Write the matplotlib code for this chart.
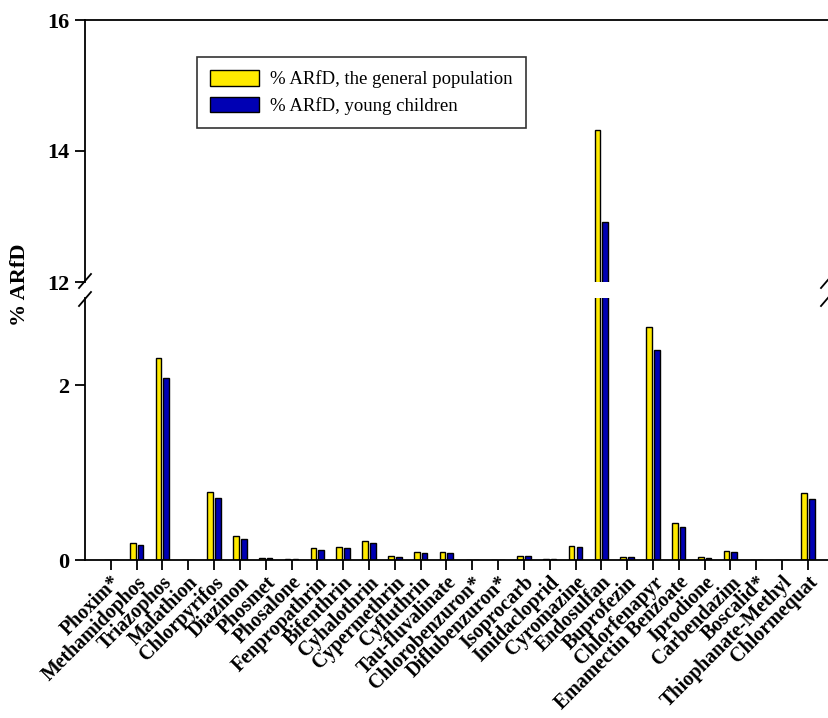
import matplotlib
matplotlib.use("Agg")
import matplotlib.pyplot as plt
import numpy as np

pesticides = [
    "Phoxim*", "Methamidophos", "Triazophos", "Malathion", "Chlorpyrifos",
    "Diazinon", "Phosmet", "Phosalone", "Fenpropathrin", "Bifenthrin",
    "Cyhalothrin", "Cypermethrin", "Cyfluthrin", "Tau-fluvalinate",
    "Chlorobenzuron*", "Diflubenzuron*", "Isoprocarb", "Imidacloprid",
    "Cyromazine", "Endosulfan", "Buprofezin", "Chlorfenapyr",
    "Emamectin Benzoate", "Iprodione", "Carbendazim", "Boscalid*",
    "Thiophanate-Methyl", "Chlormequat",
]
arfd_general = [
    0.0, 0.19, 2.31, 0.0, 0.78, 0.27, 0.02, 0.015, 0.14, 0.153,
    0.22, 0.045, 0.09, 0.09, 0.0, 0.0, 0.05, 0.01, 0.157, 14.32,
    0.03, 2.67, 0.42, 0.03, 0.10, 0.0, 0.0, 0.77,
]
arfd_children = [
    0.0, 0.17, 2.08, 0.0, 0.71, 0.245, 0.02, 0.015, 0.12, 0.14,
    0.20, 0.038, 0.08, 0.08, 0.0, 0.0, 0.045, 0.01, 0.145, 12.92,
    0.03, 2.41, 0.38, 0.025, 0.095, 0.0, 0.0, 0.70,
]

C_GEN = "#FFEA00"
C_KID = "#0000B4"
SERIF = ["Liberation Serif", "DejaVu Serif"]

plt.rcParams.update({
    "font.family": SERIF,
    "axes.linewidth": 1.3,
    "xtick.major.width": 1.3,
    "ytick.major.width": 1.3,
    "xtick.major.size": 7,
    "ytick.major.size": 7,
})

fig = plt.figure(figsize=(8.29, 7.18), dpi=100)
W, H = 829, 718
left, right = 85 / W, 828 / W
ax_top = fig.add_axes([left, 1 - 282 / H, right - left, (282 - 20) / H])
ax_bot = fig.add_axes([left, 1 - 560 / H, right - left, (560 - 298) / H])

x = np.arange(len(pesticides))
bw, off = 0.22, 0.15
for ax in (ax_top, ax_bot):
    ax.bar(x - off, arfd_general, bw, color=C_GEN, edgecolor="black", lw=1.0,
           label="% ARfD, the general population")
    ax.bar(x + off, arfd_children, bw, color=C_KID, edgecolor="black", lw=1.0,
           label="% ARfD, young children")
    ax.set_xlim(-1, len(pesticides) - 0.22)
    ax.spines["right"].set_visible(False)

ax_top.set_ylim(12, 16)
ax_top.set_yticks([12, 14, 16])
ax_top.spines["bottom"].set_visible(False)
ax_top.tick_params(axis="x", bottom=False, labelbottom=False)

ax_bot.set_ylim(0, 3.0)
ax_bot.set_yticks([0, 2])
ax_bot.spines["top"].set_visible(False)
ax_bot.set_xticks(x)
ax_bot.set_xticklabels(pesticides, rotation=45, ha="right", va="top",
                       rotation_mode="anchor", fontsize=14.4, fontweight="bold")
ax_bot.tick_params(axis="x", pad=2)

for ax in (ax_top, ax_bot):
    ax.tick_params(axis="y", labelsize=16, pad=4)
    for lab in ax.get_yticklabels():
        lab.set_fontweight("bold")

# break marks
for xf in (left, 827 / W):
    for yp in (281, 299):
        yc = 1 - yp / H
        fig.add_artist(plt.Line2D([xf - 6 / W, xf + 6 / W], [yc - 7 / H, yc + 7 / H],
                                  color="black", lw=1.3))

fig.text(20 / W, 1 - 285 / H, "% ARfD", rotation=90, ha="center", va="center",
         fontsize=16, fontweight="bold")

leg = ax_top.legend(loc="upper left", bbox_to_anchor=(112 / 743, 1 - 37 / 262),
                    fontsize=13.5, frameon=True, fancybox=False, edgecolor="black",
                    handlelength=2.6, handleheight=0.9, handletextpad=0.6,
                    borderpad=0.7, labelspacing=0.45, borderaxespad=0)
leg.get_frame().set_linewidth(1.2)

fig.savefig("out.png", dpi=100)
